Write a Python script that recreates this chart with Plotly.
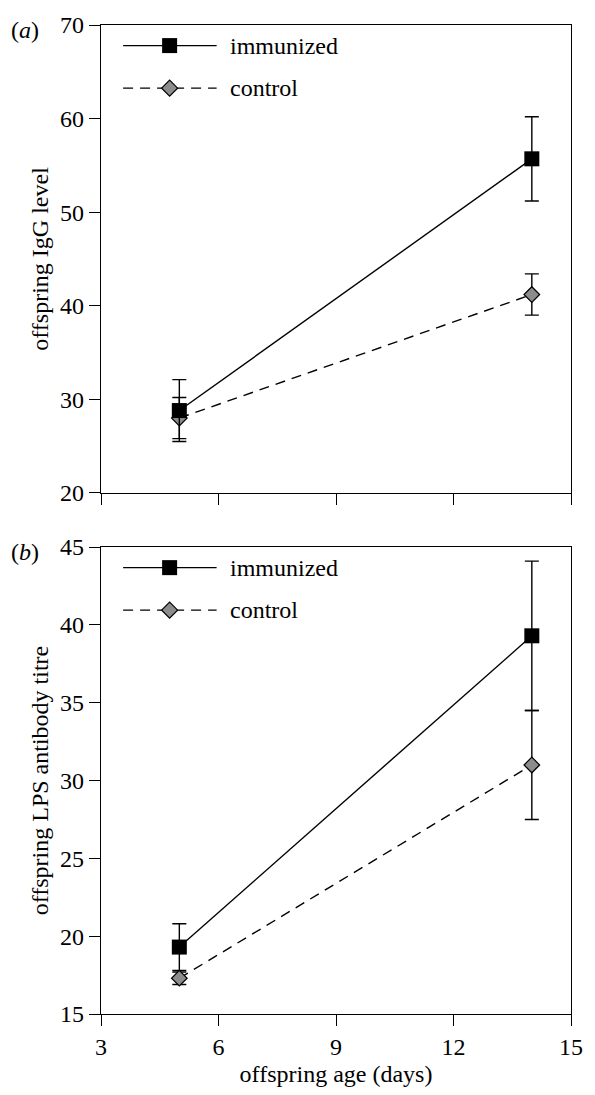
import plotly.graph_objects as go
from plotly.subplots import make_subplots

# ---- data ----
age = [5, 14]
igg_immunized = [28.8, 55.7]
igg_immunized_err = [3.3, 4.5]
igg_control = [28.0, 41.2]
igg_control_err = [2.2, 2.2]

lps_immunized = [19.3, 39.3]
lps_immunized_err = [1.5, 4.8]
lps_control = [17.3, 31.0]
lps_control_err = [0.4, 3.5]

x_ticks = [3, 6, 9, 12, 15]
igg_ticks = [20, 30, 40, 50, 60, 70]
lps_ticks = [15, 20, 25, 30, 35, 40, 45]

series_names = ["immunized", "control"]
panel_labels = ["(<i>a</i>)", "(<i>b</i>)"]
y_titles = ["offspring IgG level", "offspring LPS antibody titre"]
x_title = "offspring age (days)"

FONT = "'Liberation Serif', 'Times New Roman', Times, serif"
FS = 24
GRAY = "#8c8c8c"

fig = make_subplots(rows=2, cols=1, vertical_spacing=0.0548, shared_xaxes=False)

def add_panel(row, imm, imm_err, ctl, ctl_err):
    fig.add_trace(go.Scatter(
        x=age, y=ctl, mode="lines+markers", name=series_names[1],
        line=dict(color="black", width=1.4, dash="10px,7px"),
        marker=dict(symbol="diamond", size=12, color=GRAY, line=dict(color="black", width=1.2)),
        error_y=dict(type="data", array=ctl_err, visible=True, color="black", thickness=1.4, width=7),
        showlegend=False, cliponaxis=False), row=row, col=1)
    fig.add_trace(go.Scatter(
        x=age, y=imm, mode="lines+markers", name=series_names[0],
        line=dict(color="black", width=1.4),
        marker=dict(symbol="square", size=15, color="black", line=dict(color="black", width=0)),
        error_y=dict(type="data", array=imm_err, visible=True, color="black", thickness=1.4, width=7),
        showlegend=False, cliponaxis=False), row=row, col=1)

add_panel(1, igg_immunized, igg_immunized_err, igg_control, igg_control_err)
add_panel(2, lps_immunized, lps_immunized_err, lps_control, lps_control_err)

axis_common = dict(showline=True, linecolor="black", linewidth=1.4, mirror=True,
                   ticks="outside", ticklen=11, tickwidth=1.4, tickcolor="black",
                   showgrid=False, zeroline=False,
                   tickfont=dict(family=FONT, size=FS, color="black"))

fig.update_xaxes(range=[x_ticks[0], x_ticks[-1]], tickvals=x_ticks, **axis_common)
fig.update_xaxes(showticklabels=False, row=1, col=1)
fig.update_xaxes(title=dict(text=x_title, font=dict(family=FONT, size=FS, color="black"), standoff=6),
                 row=2, col=1)
fig.update_yaxes(range=[igg_ticks[0], igg_ticks[-1]], tickvals=igg_ticks,
                 title=dict(text=y_titles[0], font=dict(family=FONT, size=FS, color="black"), standoff=4),
                 row=1, col=1, **axis_common)
fig.update_yaxes(range=[lps_ticks[0], lps_ticks[-1]], tickvals=lps_ticks,
                 title=dict(text=y_titles[1], font=dict(family=FONT, size=FS, color="black"), standoff=4),
                 row=2, col=1, **axis_common)

fig.update_layout(width=595, height=1095, margin=dict(l=101, r=21, t=16, b=75),
                  plot_bgcolor="white", paper_bgcolor="white",
                  font=dict(family=FONT, size=FS, color="black"))
fig.update_layout(yaxis=dict(domain=[0.5269, 1.0]), yaxis2=dict(domain=[0.0, 0.4721]))

# ---- legends and panel labels ----
for i, (xr, yr) in enumerate([("x domain", "y domain"), ("x2 domain", "y2 domain")]):
    yi, yc = 0.956, 0.865
    fig.add_shape(type="line", xref=xr, yref=yr, x0=0.047, x1=0.246, y0=yi, y1=yi,
                  line=dict(color="black", width=1.4))
    fig.add_shape(type="rect", xref=xr, yref=yr, xsizemode="pixel", ysizemode="pixel",
                  xanchor=0.146, yanchor=yi, x0=-7.5, x1=7.5, y0=-7.5, y1=7.5,
                  fillcolor="black", line=dict(color="black", width=0))
    fig.add_shape(type="line", xref=xr, yref=yr, x0=0.047, x1=0.246, y0=yc, y1=yc,
                  line=dict(color="black", width=1.4, dash="10px,7px"))
    fig.add_shape(type="path", xref=xr, yref=yr, xsizemode="pixel", ysizemode="pixel",
                  xanchor=0.146, yanchor=yc, path="M -8 0 L 0 8 L 8 0 L 0 -8 Z",
                  fillcolor=GRAY, line=dict(color="black", width=1.2))
    fig.add_annotation(xref=xr, yref=yr, x=0.27, y=yi, text=series_names[0], showarrow=False,
                       xanchor="left", yanchor="middle", font=dict(family=FONT, size=FS, color="black"))
    fig.add_annotation(xref=xr, yref=yr, x=0.27, y=yc, text=series_names[1], showarrow=False,
                       xanchor="left", yanchor="middle", font=dict(family=FONT, size=FS, color="black"))
    fig.add_annotation(xref=xr, yref=yr, x=-0.195, y=0.99, text=panel_labels[i], showarrow=False,
                       xanchor="left", yanchor="middle", font=dict(family=FONT, size=FS, color="black"))

fig.write_html("out.html", config={"displayModeBar": False},
               post_script="document.body.style.margin='0';document.body.style.padding='0';")
